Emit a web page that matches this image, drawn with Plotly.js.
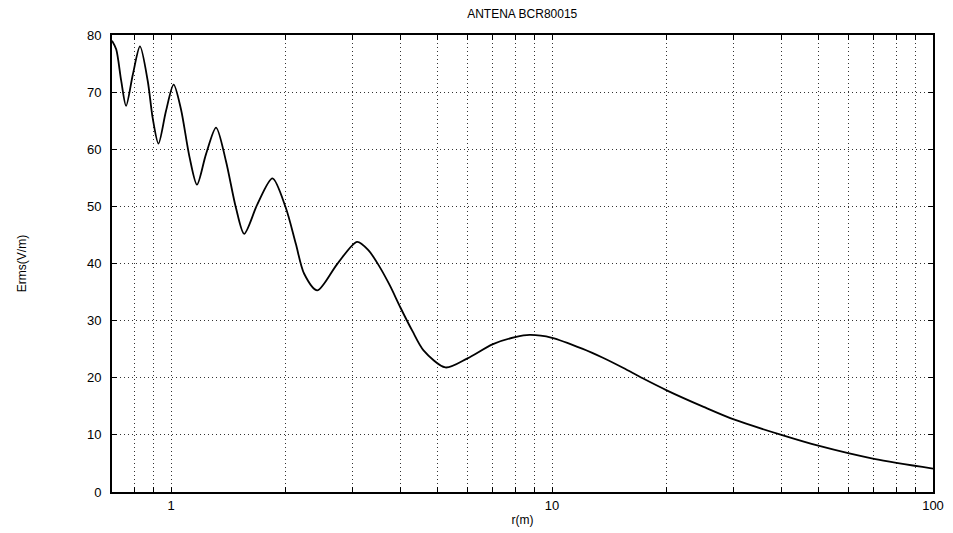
<!DOCTYPE html>
<html>
<head>
<meta charset="utf-8">
<script src="https://cdn.plot.ly/plotly-3.0.1.min.js"></script>
<style>html,body{margin:0;padding:0;background:#fff;}#chart{width:953px;height:533px;}</style>
</head>
<body>
<div id="chart"></div>
<script>
// distance r (m)
const r = [0.70, 0.718, 0.74, 0.762, 0.794, 0.829, 0.869, 0.895, 0.927, 0.97, 1.016, 1.062, 1.117, 1.17, 1.235, 1.313, 1.393, 1.48, 1.556, 1.686, 1.846, 2.0, 2.127, 2.236, 2.42, 2.73, 3.08, 3.3, 3.5, 3.75, 4.0, 4.3, 4.6, 5.25, 6.0, 7.0, 8.0, 8.73, 10, 12, 13.6, 15.4, 17.3, 20, 25, 30, 40, 50, 70, 100];
// field strength Erms (V/m)
const erms = [79.0, 77.5, 72.0, 67.6, 73.1, 78.0, 71.9, 65.5, 61.0, 66.7, 71.3, 67.0, 58.8, 53.8, 59.1, 63.8, 58.0, 49.8, 45.2, 50.4, 54.9, 49.8, 43.4, 38.2, 35.3, 39.9, 43.8, 42.3, 39.8, 36.2, 32.3, 28.2, 24.8, 21.8, 23.4, 25.9, 27.1, 27.5, 27.0, 25.1, 23.5, 21.7, 19.9, 17.8, 14.9, 12.7, 10.0, 8.1, 5.8, 4.1];

const xTickVals = [0.7, 0.8, 0.9, 1, 2, 3, 4, 5, 6, 7, 8, 9, 10, 20, 30, 40, 50, 60, 70, 80, 90, 100];
const xTickText = ['', '', '', '1', '', '', '', '', '', '', '', '', '10', '', '', '', '', '', '', '', '', '100'];
const yTickVals = [0, 10, 20, 30, 40, 50, 60, 70, 80];

const font = 'Liberation Sans, Arial, sans-serif';
const gridDash = '1px,3px';

Plotly.newPlot('chart', [{
  x: r, y: erms, type: 'scatter', mode: 'lines',
  line: {color: '#000', width: 1.8, shape: 'spline', smoothing: 0.8}
}], {
  width: 953, height: 533,
  margin: {l: 112, r: 20, t: 35, b: 41},
  paper_bgcolor: '#fff', plot_bgcolor: '#fff',
  showlegend: false,
  title: {text: 'ANTENA BCR80015', font: {family: font, size: 12, color: '#000'}, x: 0.548, xanchor: 'center', y: 0.975, yanchor: 'middle'},
  xaxis: {
    type: 'log', range: [Math.log10(0.7), 2],
    tickmode: 'array', tickvals: xTickVals, ticktext: xTickText,
    showgrid: true, gridcolor: '#333', griddash: gridDash, gridwidth: 1,
    showline: true, linecolor: '#000', linewidth: 2, mirror: 'allticks',
    ticks: 'inside', ticklen: 5, tickcolor: '#000',
    tickfont: {family: font, size: 13, color: '#000'},
    zeroline: false,
    title: {text: 'r(m)', font: {family: font, size: 12, color: '#000'}, standoff: 4}
  },
  yaxis: {
    range: [0, 80], tickmode: 'array', tickvals: yTickVals,
    showgrid: true, gridcolor: '#333', griddash: gridDash, gridwidth: 1,
    showline: true, linecolor: '#000', linewidth: 2, mirror: 'allticks',
    ticks: 'inside', ticklen: 5, tickcolor: '#000',
    tickfont: {family: font, size: 13, color: '#000'},
    ticklabelstandoff: 6,
    zeroline: false,
    title: {text: 'Erms(V/m)', font: {family: font, size: 12, color: '#000'}, standoff: 58}
  }
}, {displayModeBar: false, staticPlot: true});
</script>
</body>
</html>
